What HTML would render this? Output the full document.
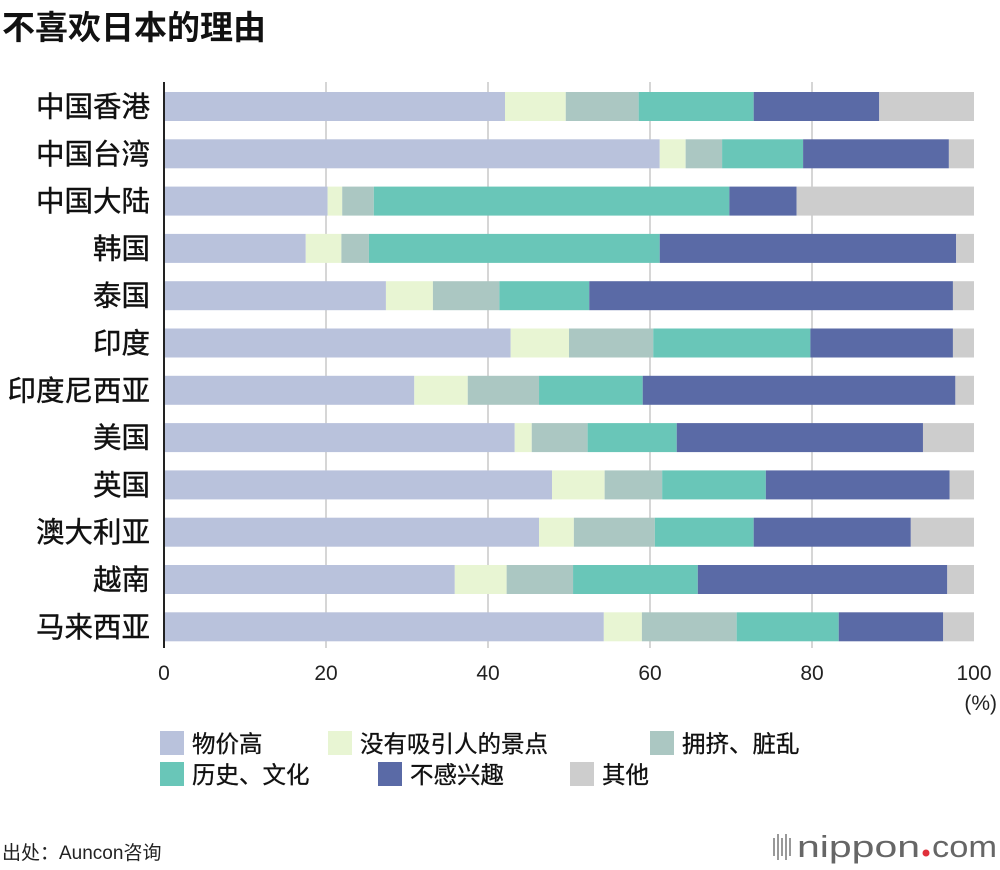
<!DOCTYPE html>
<html><head><meta charset="utf-8">
<style>
body{margin:0;background:#fff;font-family:"Liberation Sans","Noto Sans CJK SC",sans-serif;}
#wrap{position:relative;width:1000px;height:870px;overflow:hidden;}
</style></head><body>
<div id="wrap">
<svg id="chart" width="1000" height="870" font-family="Liberation Sans, Noto Sans CJK SC, sans-serif"></svg>
</div>
<script>
const categories=["中国香港","中国台湾","中国大陆","韩国","泰国","印度","印度尼西亚","美国","英国","澳大利亚","越南","马来西亚"];
const seriesNames=["物价高","没有吸引人的景点","拥挤、脏乱","历史、文化","不感兴趣","其他"];
const expensive=[42.1,61.2,20.2,17.5,27.4,42.8,30.9,43.3,47.9,46.3,35.9,54.3];
const noAttractions=[7.5,3.2,1.8,4.4,5.8,7.2,6.6,2.1,6.5,4.3,6.4,4.7];
const crowded=[9.0,4.5,3.9,3.4,8.2,10.4,8.8,6.9,7.1,10.0,8.2,11.7];
const history=[14.2,10.0,43.9,35.9,11.1,19.4,12.8,11.0,12.8,12.2,15.4,12.6];
const notInterested=[15.5,18.0,8.3,36.6,44.9,17.6,38.6,30.4,22.7,19.4,30.8,12.9];
const other=[11.7,3.1,21.9,2.2,2.6,2.6,2.3,6.3,3.0,7.8,3.3,3.8];
const xTicks=[0,20,40,60,80,100];
const colors=["#b9c2dc","#e8f5d3","#abc7c2","#69c6b8","#5a6aa6","#cdcdcd"];
const NS="http://www.w3.org/2000/svg";
const svg=document.getElementById('chart');
function mk(t,a,txt){const e=document.createElementNS(NS,t);for(const k in a)e.setAttribute(k,a[k]);if(txt!==undefined)e.textContent=txt;svg.appendChild(e);return e;}
const x=v=>164+v*8.1;
const y=i=>92+i*47.3;
const bh=29;
let t=mk('text',{x:2,y:39,'font-size':33,'font-weight':'bold',fill:'#111'},'不喜欢日本的理由');


xTicks.forEach(v=>{
  if(v>0&&v<100){const g=mk('line',{x1:x(v),x2:x(v),y1:82,y2:648,stroke:'#bbb','stroke-width':1.2});
  
  }
  const l=mk('text',{x:x(v),y:680,'font-size':21,'text-anchor':'middle',fill:'#222'},String(v));
  
  
});
const series=[expensive,noAttractions,crowded,history,notInterested,other];
categories.forEach((c,i)=>{
  let acc=0;
  series.forEach((s,j)=>{
    const r=mk('rect',{x:x(acc),y:y(i),width:s[i]*8.1,height:bh,fill:colors[j]});
    
    
    acc+=s[i];
  });
  const l=mk('text',{x:150,y:y(i)+bh/2+10,'font-size':28.5,'text-anchor':'end',fill:'#111',stroke:'#111','stroke-width':0.4},c);
  
  
});
const ax=mk('line',{x1:164,x2:164,y1:82,y2:648,stroke:'#222','stroke-width':2});


const pu=mk('text',{x:997,y:710,'font-size':21,'text-anchor':'end',fill:'#222'},'(%)');


const lx=[160,328,650,160,378,570], ly=[743,743,743,774,774,774];
seriesNames.forEach((n,j)=>{
  const r=mk('rect',{x:lx[j],y:ly[j]-12,width:24,height:24,fill:colors[j]});
  
  
  const l=mk('text',{x:lx[j]+32,y:ly[j]+9,'font-size':23.5,fill:'#111',stroke:'#111','stroke-width':0.3},n);
  
  
});
const src=mk('text',{x:2,y:859,'font-size':19,fill:'#222'},'出处：Auncon咨询');


for(let k=0;k<5;k++){const b=mk('rect',{x:773+k*4,y:838-(k%2?4:0),width:2,height:18+(k%2?8:0),fill:'#999'});

}
const logo=mk('text',{x:797,y:857,'font-size':31,fill:'#666',textLength:123,lengthAdjust:'spacingAndGlyphs'},'nippon');


const dot=mk('circle',{cx:926,cy:853,r:3.5,fill:'#e0303a'});


const com=mk('text',{x:932,y:857,'font-size':31,fill:'#666',textLength:65,lengthAdjust:'spacingAndGlyphs'},'com');


</script>
</body></html>
